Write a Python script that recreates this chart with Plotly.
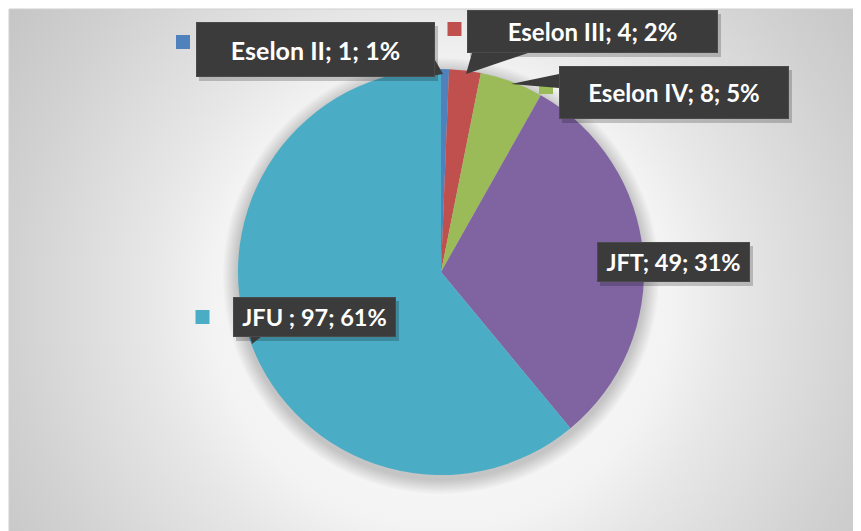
import base64
import plotly.graph_objects as go

# ---- data ----
categories = ["Eselon II", "Eselon III", "Eselon IV", "JFT", "JFU "]
values = [1, 4, 8, 49, 97]
percents = ["1%", "2%", "5%", "31%", "61%"]
colors = ["#4F81BD", "#C0504D", "#9BBB59", "#8064A2", "#4BACC6"]

W, H = 861, 531
OFF = 8          # page body margin offset in the browser
ML, MT = 1, 1
PW, PH = W - ML, H - MT

def px(x):   # window pixel -> paper x
    return (x - OFF - ML) / PW

def py(y):   # window pixel -> paper y
    return (H - (y - OFF)) / PH

# pie geometry (window pixels)
CX, CY, R = 441, 272, 203

fig = go.Figure()
fig.add_trace(go.Pie(
    labels=categories, values=values, sort=False, direction="clockwise",
    rotation=0, textinfo="none", hoverinfo="label+value+percent",
    marker=dict(colors=colors, line=dict(width=0)),
    domain=dict(x=[px(CX - R), px(CX + R)], y=[py(CY + R), py(CY - R)]),
    showlegend=False,
))

# background radial gradient
gx, gy = 441 - OFF - ML, 300 - OFF - MT
svg = f'''<svg xmlns="http://www.w3.org/2000/svg" width="{PW}" height="{PH}">
<defs><radialGradient id="g" gradientUnits="userSpaceOnUse" cx="{gx}" cy="{gy}" r="560">
<stop offset="0" stop-color="#ffffff"/>
<stop offset="0.41" stop-color="#f3f3f3"/>
<stop offset="0.52" stop-color="#e7e7e7"/>
<stop offset="0.77" stop-color="#d1d1d1"/>
<stop offset="0.92" stop-color="#c6c6c6"/>
<stop offset="1" stop-color="#c1c1c1"/>
</radialGradient></defs>
<rect width="{PW}" height="{PH}" fill="url(#g)"/></svg>'''
uri = "data:image/svg+xml;base64," + base64.b64encode(svg.encode()).decode()
fig.add_layout_image(dict(source=uri, xref="paper", yref="paper", x=0, y=1,
                          sizex=1, sizey=1, sizing="stretch", layer="below"))

shapes = []
# soft shadow around the pie
for i in range(10, 0, -1):
    r = R + i * 1.5
    oy = 4
    shapes.append(dict(type="circle", xref="paper", yref="paper", layer="below",
                       x0=px(CX - r), x1=px(CX + r), y0=py(CY + oy + r), y1=py(CY + oy - r),
                       fillcolor="rgba(0,0,0,0.018)", line=dict(width=0)))
# chart border
shapes.append(dict(type="rect", xref="paper", yref="paper", x0=0, x1=1.02, y0=-0.02, y1=1,
                   line=dict(color="#cfcfcf", width=1), layer="above"))

# label layout (window pixels): box center, box size, callout tail polygon, key center, font size
label_boxes = [
    dict(c=(315.5, 49.5), w=239, h=55, tail=[(435, 60), (443, 74), (424, 77)], key=(183, 42), fs=25),
    dict(c=(592.5, 31.5), w=251, h=43, tail=[(472, 53), (466, 74), (528, 53)], key=(454.5, 29), fs=24),
    dict(c=(674, 92.5), w=230, h=53, tail=[(559, 74), (511, 84), (559, 88)], key=(546, 87), fs=24),
    dict(c=(673.5, 262), w=153, h=40, tail=None, key=(578, 262), fs=23.5),
    dict(c=(314.5, 317), w=163, h=40, tail=[(250, 336), (252, 344), (262, 336)], key=(202.5, 317), fs=23.5),
]

BOX = "#3b3b3b"
for b, col in zip(label_boxes, colors):
    kx, ky = b["key"]
    shapes.append(dict(type="rect", xref="paper", yref="paper", layer="above",
                       x0=px(kx - 7), x1=px(kx + 7), y0=py(ky + 7), y1=py(ky - 7),
                       fillcolor=col, line=dict(width=0)))
# label box shadows
for b in label_boxes:
    cx, cy = b["c"]
    sx, sy = cx + 3, cy + 4
    shapes.append(dict(type="rect", xref="paper", yref="paper", layer="above",
                       x0=px(sx - b["w"] / 2), x1=px(sx + b["w"] / 2),
                       y0=py(sy + b["h"] / 2), y1=py(sy - b["h"] / 2),
                       fillcolor="rgba(0,0,0,0.2)", line=dict(width=0)))
for b in label_boxes:
    if b["tail"]:
        pts = b["tail"]
        path = "M " + " L ".join(f"{px(x):.5f},{py(y):.5f}" for x, y in pts) + " Z"
        shapes.append(dict(type="path", xref="paper", yref="paper", layer="above",
                           path=path, fillcolor=BOX, line=dict(width=0)))

annotations = []
for cat, v, p, b in zip(categories, values, percents, label_boxes):
    text = f"<b>{cat}; {v}; {p}</b>"
    cx, cy = b["c"]
    annotations.append(dict(xref="paper", yref="paper", x=px(cx), y=py(cy),
                            xanchor="center", yanchor="middle", showarrow=False,
                            text=text, width=b["w"] - 2, height=b["h"] - 2,
                            bgcolor=BOX, bordercolor="#4a4a4a", borderwidth=1, borderpad=0,
                            font=dict(family="Lato", size=b["fs"], color="white"),
                            align="center", valign="middle"))

fig.update_layout(
    width=W, height=H, margin=dict(l=ML, t=MT, r=0, b=0),
    paper_bgcolor="white", plot_bgcolor="rgba(0,0,0,0)",
    shapes=shapes, annotations=annotations, showlegend=False,
)
fig.write_html("out.html")
